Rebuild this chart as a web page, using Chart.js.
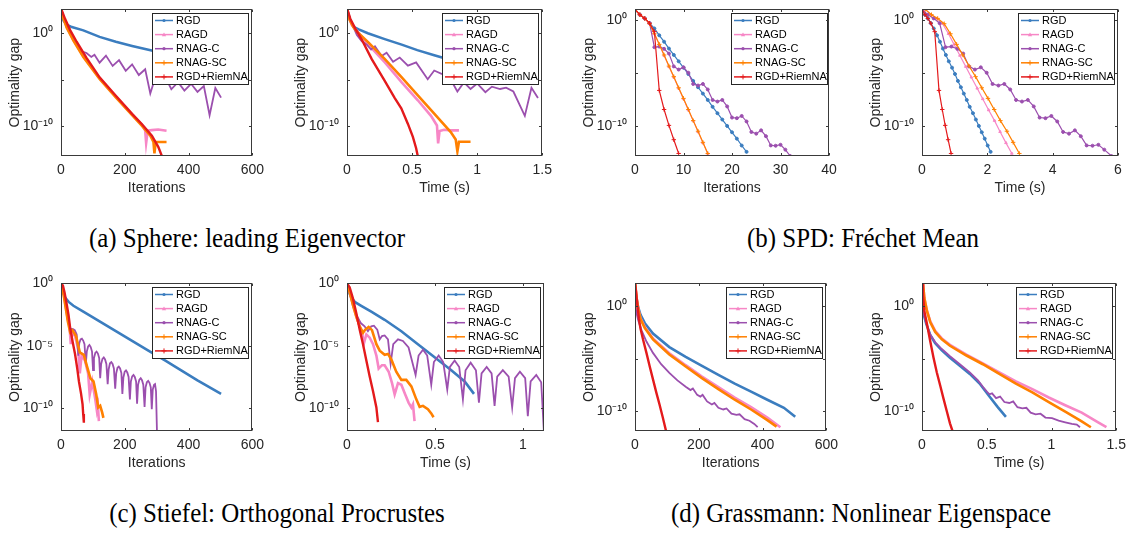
<!DOCTYPE html>
<html>
<head>
<meta charset="utf-8">
<script src="https://cdn.jsdelivr.net/npm/chart.js"></script>
<style>
body { margin:0; width:1132px; height:534px; overflow:hidden; background:#fff; position:relative; }
canvas { position:absolute; }
.cap { position:absolute; font-family:"Liberation Serif", "Times New Roman", serif; font-size:28px; line-height:30px; white-space:nowrap; color:#000; text-align:center; transform:scaleX(0.89); }
</style>
</head>
<body>
<div class="cap" style="left:-3px;top:223px;width:500px">(a) Sphere: leading Eigenvector</div>
<div class="cap" style="left:613px;top:223px;width:500px">(b) SPD: Fréchet Mean</div>
<div class="cap" style="left:-23px;top:498px;width:600px">(c) Stiefel: Orthogonal Procrustes</div>
<div class="cap" style="left:561px;top:498px;width:600px">(d) Grassmann: Nonlinear Eigenspace</div>
<script>
// y values are log10 of the optimality gap

var names = ['RGD', 'RAGD', 'RNAG-C', 'RNAG-SC', 'RGD+RiemNA']
var colors = ['#3b7dbf', '#f787c6', '#9b4fae', '#ff8000', '#e41a1c']

// (a) sphere, iterations
var aRgdX = [0, 8, 18, 34, 70, 121, 172, 223, 274, 326, 377, 428, 500]
var aRgdY = [2.53, 1.32, 0.90, 0.63, 0.28, -0.42, -0.94, -1.39, -1.81, -2.20, -2.55, -2.90, -3.30]
var aRagdX = [0, 8, 18, 39, 70, 121, 172, 223, 254, 264, 267, 272, 285, 305, 331]
var aRagdY = [2.53, 1.67, 0.63, -0.76, -2.50, -4.86, -6.84, -8.75, -9.86, -10.49, -11.81, -10.49, -10.42, -10.35, -10.49]
var aRnagcX = [0, 13, 29, 49, 65, 80, 95, 105, 121, 141, 162, 182, 203, 223, 244, 264, 280, 295, 315, 331, 346, 367, 387, 408, 428, 448, 466, 484, 502]
var aRnagcY = [2.53, 1.32, -0.07, -1.28, -1.98, -2.15, -2.57, -2.33, -3.19, -2.43, -3.54, -2.92, -4.06, -3.37, -4.51, -3.89, -6.49, -4.86, -5.35, -5.00, -6.04, -5.28, -6.18, -5.45, -6.32, -5.69, -8.82, -5.90, -6.94]
var aScX = [0, 8, 18, 39, 70, 121, 172, 223, 254, 280, 290, 293, 297, 315, 331]
var aScY = [2.53, 1.51, 0.56, -0.83, -2.57, -4.93, -6.91, -8.82, -9.97, -11.01, -11.70, -12.92, -11.70, -11.70, -11.70]
var aNaX = [0, 13, 29, 49, 80, 121, 172, 223, 254, 285, 305, 317]
var aNaY = [2.64, 1.49, 0.28, -0.94, -2.67, -4.76, -6.74, -8.68, -9.79, -11.01, -12.22, -13.26]

// (a) sphere, time (s)
var bRgdX = [0, 0.02, 0.05, 0.09, 0.16, 0.29, 0.42, 0.54, 0.67, 0.73, 0.94]
var bRgdY = [2.57, 1.53, 0.66, 0.38, -0.03, -0.66, -1.25, -1.84, -2.40, -2.64, -3.33]
var bRagdX = [0, 0.018, 0.038, 0.076, 0.164, 0.291, 0.417, 0.544, 0.645, 0.691, 0.700, 0.711, 0.746, 0.797, 0.860]
var bRagdY = [2.57, 1.53, 0.83, 0.24, -1.25, -3.16, -5.24, -7.22, -8.89, -9.93, -11.84, -10.52, -10.38, -10.45, -10.45]
var bRnagcX = [0, 0.038, 0.076, 0.114, 0.152, 0.185, 0.215, 0.266, 0.304, 0.354, 0.405, 0.468, 0.531, 0.620, 0.670, 0.726, 0.772, 0.848, 0.898, 0.949, 1.000, 1.063, 1.113, 1.176, 1.222, 1.278, 1.366, 1.417, 1.467]
var bRnagcY = [2.57, 1.01, -0.21, -0.90, -1.25, -1.77, -1.42, -2.47, -2.12, -3.09, -2.64, -3.51, -3.16, -4.97, -4.03, -4.38, -4.38, -6.28, -5.31, -6.01, -5.42, -6.35, -5.76, -6.01, -5.87, -6.28, -8.89, -5.87, -6.98]
var bScX = [0, 0.02, 0.051, 0.089, 0.164, 0.291, 0.417, 0.544, 0.670, 0.797, 0.835, 0.848, 0.860, 0.898, 0.949]
var bScY = [2.57, 1.42, 0.59, -0.03, -1.01, -2.81, -4.72, -6.70, -8.65, -10.63, -11.42, -12.71, -11.67, -11.67, -11.67]
var bNaX = [0, 0.025, 0.063, 0.114, 0.190, 0.291, 0.367, 0.417, 0.468, 0.506, 0.531, 0.544]
var bNaY = [2.67, 1.53, 0.49, -0.73, -2.81, -5.17, -6.98, -8.09, -9.76, -11.15, -12.36, -13.23]

// (b) SPD, per iteration (same runs for iterations and time)
var spdRgdY = [1.0, 0.5, 0.15, -0.3, -0.8, -1.45, -2.05, -2.7, -3.3, -3.9, -4.5, -5.1, -5.75, -6.35, -6.95, -7.55, -8.2, -8.8, -9.4, -10.0, -10.6, -11.2, -11.85, -12.45]
var spdRagdY = [1.0, 0.5, 0.15, -0.35, -1.3, -2.3, -3.35, -4.4, -5.4, -6.45, -7.45, -8.5, -9.5, -10.55, -11.6, -12.6]
var spdRnagcY = [1.0, 0.5, 0.15, -0.3, -2.57, -2.51, -2.72, -3.17, -4.38, -4.68, -4.47, -4.98, -6.04, -6.19, -6.04, -6.56, -7.55, -7.70, -7.55, -8.16, -9.21, -9.27, -9.06, -9.58, -10.57, -10.73, -10.42, -10.97, -11.84, -11.87, -11.78, -12.24, -12.84]
var spdScY = [1.0, 0.5, 0.15, -0.35, -1.3, -2.3, -3.3, -4.35, -5.35, -6.4, -7.4, -8.45, -9.5, -10.5, -11.55, -12.6]
var spdNaY = [1.0, 0.5, 0.15, -0.3, -1.1, -6.65, -8.45, -9.95, -11.3, -12.6]

var cRgdX = [0, 1, 2, 3, 4, 5, 6, 7, 8, 9, 10, 11, 12, 13, 14, 15, 16, 17, 18, 19, 20, 21, 22, 23]
var cRagdX = [0, 1, 2, 3, 4, 5, 6, 7, 8, 9, 10, 11, 12, 13, 14, 15]
var cRnagcX = [0, 1, 2, 3, 4, 5, 6, 7, 8, 9, 10, 11, 12, 13, 14, 15, 16, 17, 18, 19, 20, 21, 22, 23, 24, 25, 26, 27, 28, 29, 30, 31, 32]
var cScX = [0, 1, 2, 3, 4, 5, 6, 7, 8, 9, 10, 11, 12, 13, 14, 15]
var cNaX = [0, 1, 2, 3, 4, 5, 6, 7, 8, 9]

var dRgdX = [0, 0.09, 0.18, 0.27, 0.36, 0.46, 0.55, 0.64, 0.73, 0.82, 0.92, 1.01, 1.10, 1.19, 1.28, 1.37, 1.46, 1.56, 1.65, 1.74, 1.83, 1.92, 2.01, 2.10]
var dRagdX = [0.10, 0.28, 0.45, 0.63, 0.81, 0.98, 1.16, 1.34, 1.51, 1.69, 1.86, 2.04, 2.22, 2.39, 2.57, 2.75]
var dRnagcX = [0, 0.18, 0.36, 0.54, 0.72, 0.90, 1.08, 1.26, 1.44, 1.62, 1.80, 1.98, 2.16, 2.34, 2.52, 2.70, 2.88, 3.06, 3.24, 3.42, 3.60, 3.78, 3.96, 4.14, 4.32, 4.50, 4.68, 4.86, 5.04, 5.22, 5.40, 5.58, 5.80]
var dScX = [0.10, 0.29, 0.48, 0.68, 0.87, 1.06, 1.25, 1.44, 1.64, 1.83, 2.02, 2.21, 2.40, 2.60, 2.79, 2.98]
var dNaX = [0, 0.09, 0.18, 0.27, 0.39, 0.52, 0.62, 0.71, 0.80, 0.89]

// (c) Stiefel, iterations
var eRgdX = [0, 6, 13, 24, 39, 70, 121, 172, 223, 274, 326, 377, 428, 502]
var eRgdY = [0, -0.70, -1.14, -1.48, -1.79, -2.26, -3.04, -3.82, -4.60, -5.38, -6.16, -6.95, -7.75, -8.83]
var eRagdX = [0, 8, 15, 21.5, 26.6, 30.7, 34.8, 44, 54, 59, 64.5, 75, 85, 90, 98, 107.5, 112.6, 115.7, 118.8]
var eRagdY = [0, -0.83, -1.87, -2.91, -3.43, -4.86, -3.95, -4.21, -5.25, -7.19, -5.77, -6.16, -7.19, -8.88, -7.84, -9.27, -10.18, -9.79, -11.01]
var eRnagcX = [0, 8.2, 15.4, 21.5, 26.6, 31.7, 36.9, 43.0, 49.2, 54.3, 57.3, 61.4, 65.5, 69.6, 73.7, 77.8, 80.9, 85.0, 89.1, 93.2, 97.3, 100.4, 103.4, 107.5, 111.6, 115.7, 119.8, 122.9, 125.9, 130.0, 134.1, 138.2, 142.3, 146.4, 149.5, 153.6, 157.7, 161.8, 165.9, 170.0, 173.1, 177.2, 181.2, 185.3, 189.4, 192.5, 195.6, 199.7, 203.8, 207.9, 212.0, 216.1, 219.1, 223.2, 227.3, 231.4, 235.5, 238.6, 241.7, 245.8, 249.9, 254.0, 258.1, 262.1, 265.2, 269.3, 273.4, 277.5, 281.6, 284.7, 287.7, 291.8, 294.9, 298.0, 301.1]
var eRnagcY = [0, -0.83, -1.87, -2.91, -3.38, -3.69, -3.64, -3.74, -4.08, -5.77, -4.78, -4.47, -4.42, -4.57, -4.86, -6.42, -5.45, -5.04, -4.93, -5.09, -5.45, -6.93, -5.97, -5.56, -5.45, -5.61, -5.97, -7.58, -6.44, -6.03, -5.92, -6.08, -6.44, -8.05, -6.86, -6.39, -6.29, -6.44, -6.80, -8.41, -7.19, -6.75, -6.65, -6.80, -7.17, -8.83, -7.53, -7.06, -6.96, -7.12, -7.48, -9.27, -7.84, -7.43, -7.32, -7.48, -7.84, -9.61, -8.10, -7.69, -7.58, -7.74, -8.10, -9.87, -8.31, -7.90, -7.79, -7.95, -8.31, -10.05, -8.49, -8.10, -8.05, -8.62, -12.0]
var eScX = [0, 8, 15, 21.5, 28.7, 35.8, 47, 59, 71.7, 82, 92, 102, 110.6, 116.7, 122.9, 129, 133]
var eScY = [0, -0.88, -2.0, -3.04, -3.90, -3.74, -4.21, -5.51, -5.71, -6.68, -7.58, -7.84, -8.88, -9.92, -9.79, -10.31, -10.75]
var eNaX = [0, 6, 11, 18.4, 23.6, 28.7, 36.9, 44, 51, 56.3, 62.5, 67.6, 69.6, 71.7]
var eNaY = [0, -0.18, -0.70, -1.74, -2.52, -3.56, -4.73, -5.64, -6.81, -7.84, -8.75, -9.66, -10.44, -11.14]

// (c) Stiefel, time (s)
var fRgdX = [0, 0.011, 0.025, 0.044, 0.081, 0.138, 0.214, 0.309, 0.403, 0.498, 0.593, 0.669, 0.722]
var fRgdY = [0, -0.70, -1.14, -1.48, -1.79, -2.26, -2.91, -3.82, -4.86, -5.90, -6.94, -7.84, -8.83]
var fRagdX = [0, 0.015, 0.034, 0.053, 0.072, 0.085, 0.095, 0.110, 0.129, 0.148, 0.167, 0.180, 0.199, 0.214, 0.237, 0.256, 0.271, 0.290, 0.309, 0.331, 0.350, 0.366, 0.375, 0.384]
var fRagdY = [0, -0.70, -1.74, -2.65, -3.43, -3.82, -4.86, -4.08, -4.34, -4.86, -5.77, -6.81, -6.54, -6.54, -7.06, -7.97, -8.88, -7.97, -8.10, -8.88, -9.53, -9.92, -9.66, -11.01]
var fRnagcX = [0, 0.015, 0.034, 0.053, 0.078, 0.100, 0.119, 0.138, 0.153, 0.172, 0.186, 0.199, 0.214, 0.233, 0.248, 0.263, 0.290, 0.318, 0.350, 0.390, 0.407, 0.432, 0.456, 0.479, 0.494, 0.521, 0.547, 0.570, 0.585, 0.612, 0.638, 0.659, 0.674, 0.703, 0.733, 0.750, 0.765, 0.794, 0.822, 0.839, 0.854, 0.886, 0.919, 0.939, 0.955, 0.983, 1.013, 1.028, 1.044, 1.076, 1.104, 1.119]
var fRnagcY = [0, -0.70, -1.74, -2.52, -3.17, -3.43, -3.82, -3.43, -3.38, -3.69, -4.47, -4.21, -4.16, -4.47, -6.42, -4.86, -4.47, -4.60, -5.12, -7.32, -5.77, -5.30, -5.77, -8.10, -6.29, -5.77, -6.29, -8.49, -6.68, -6.16, -6.68, -9.27, -6.94, -6.34, -6.94, -9.53, -7.19, -6.68, -7.19, -9.79, -7.45, -6.94, -7.45, -9.92, -7.58, -7.06, -7.58, -10.62, -7.84, -7.32, -7.90, -11.74]
var fScX = [0, 0.015, 0.034, 0.053, 0.072, 0.091, 0.104, 0.123, 0.142, 0.167, 0.186, 0.214, 0.233, 0.252, 0.280, 0.309, 0.337, 0.366, 0.394, 0.413, 0.432, 0.460, 0.479, 0.492]
var fScY = [0, -0.70, -1.74, -2.65, -3.43, -3.95, -3.69, -3.48, -3.74, -4.86, -5.38, -5.71, -5.64, -6.08, -7.06, -7.71, -7.71, -8.23, -9.27, -9.87, -9.79, -10.05, -10.39, -10.70]
var fNaX = [0, 0.015, 0.034, 0.053, 0.072, 0.091, 0.110, 0.129, 0.148, 0.167, 0.176]
var fNaY = [0, -0.31, -1.22, -2.39, -3.69, -4.86, -6.16, -7.45, -8.62, -9.92, -11.09]

// (d) Grassmann, iterations
var gRgdX = [0, 5.1, 10.3, 17.4, 30.8, 56.4, 107.7, 159, 210, 261.5, 312.8, 364, 415, 467, 502.5]
var gRgdY = [0.9, 0.62, -0.15, -0.83, -1.63, -2.62, -3.91, -4.83, -5.69, -6.55, -7.38, -8.15, -8.92, -9.69, -10.55]
var gRagdX = [0, 5.1, 10.3, 17.4, 30.8, 56.4, 107.7, 159, 210, 261.5, 312.8, 364, 415, 456]
var gRagdY = [2.25, 0.77, -0.28, -1.17, -2.0, -3.08, -4.49, -5.63, -6.71, -7.72, -8.71, -9.63, -10.62, -11.54]
var gRnagcX = [0, 5.1, 10.3, 20.5, 35.9, 56.4, 82, 107.7, 133, 159, 174, 181.5, 195, 205, 212, 226, 241, 249, 261.5, 277, 287, 302.5, 318, 328, 343.6, 359, 374, 384.6]
var gRnagcY = [0.15, -0.71, -1.38, -2.31, -3.38, -4.46, -5.54, -6.37, -7.08, -7.69, -8.0, -7.85, -8.46, -8.62, -8.46, -9.08, -9.38, -9.23, -9.69, -9.85, -9.75, -10.25, -10.37, -10.31, -10.77, -10.92, -11.23, -11.54]
var gScX = [0, 5.1, 10.3, 17.4, 30.8, 56.4, 107.7, 159, 210, 261.5, 312.8, 364, 415, 444]
var gScY = [2.25, 0.77, -0.31, -1.23, -2.09, -3.17, -4.62, -5.75, -6.86, -7.91, -8.92, -9.85, -10.86, -11.48]
var gNaX = [0, 4.1, 8.2, 12.3, 17.4, 25.6, 35.9, 46.2, 56.4, 66.7, 76.9, 87.2, 97.4]
var gNaY = [2.31, 1.08, -0.15, -1.23, -2.15, -3.23, -4.46, -5.75, -6.98, -8.22, -9.38, -10.62, -11.91]

// (d) Grassmann, time (s)
var hRgdX = [0, 0.013, 0.033, 0.064, 0.102, 0.153, 0.216, 0.292, 0.369, 0.445, 0.521, 0.585, 0.648]
var hRgdY = [0, -0.77, -1.69, -2.77, -3.54, -4.22, -4.92, -5.69, -6.46, -7.38, -8.62, -9.63, -10.55]
var hRagdX = [0.008, 0.018, 0.038, 0.064, 0.102, 0.153, 0.216, 0.343, 0.470, 0.597, 0.725, 0.852, 0.979, 1.106, 1.233, 1.360, 1.424]
var hRagdY = [2.15, 0.77, -0.40, -1.45, -2.37, -3.08, -3.69, -4.62, -5.45, -6.31, -7.17, -7.91, -8.71, -9.45, -10.15, -11.08, -11.54]
var hRnagcX = [0, 0.013, 0.033, 0.064, 0.102, 0.153, 0.216, 0.292, 0.369, 0.432, 0.470, 0.501, 0.521, 0.541, 0.572, 0.603, 0.636, 0.674, 0.704, 0.737, 0.775, 0.806, 0.839, 0.877, 0.915, 0.953, 1.004, 1.055, 1.106, 1.157, 1.195, 1.220]
var hRnagcY = [0, -0.77, -1.69, -2.71, -3.45, -4.09, -4.77, -5.54, -6.31, -7.08, -7.69, -8.15, -8.40, -8.31, -8.77, -8.62, -9.14, -9.23, -9.08, -9.63, -9.75, -9.69, -10.15, -10.31, -10.25, -10.62, -10.68, -10.92, -11.08, -11.23, -11.29, -11.54]
var hScX = [0.008, 0.018, 0.038, 0.064, 0.102, 0.153, 0.216, 0.343, 0.470, 0.597, 0.725, 0.852, 0.979, 1.106, 1.233, 1.304]
var hScY = [2.15, 0.77, -0.46, -1.54, -2.46, -3.17, -3.78, -4.71, -5.54, -6.46, -7.38, -8.22, -9.14, -10.06, -10.98, -11.54]
var hNaX = [0, 0.0076, 0.018, 0.038, 0.064, 0.089, 0.114, 0.140, 0.165, 0.191, 0.216, 0.236]
var hNaY = [2.25, 1.08, -0.46, -1.69, -3.38, -4.92, -6.31, -7.54, -8.77, -10.0, -11.17, -11.91]

var iterTicks = [0, 200, 400, 600]

var panels = [
  {box:[61,5,256,156], xMax:600, xTicks:iterTicks, xTitle:'Iterations', yLim:[-13.2,2.53], yLab:[-10,0], dense:true,
   series:[[aRgdX,aRgdY],[aRagdX,aRagdY],[aRnagcX,aRnagcY],[aScX,aScY],[aNaX,aNaY]]},
  {box:[347,5,544,156], xMax:1.5, xTicks:[0,0.5,1,1.5], xTitle:'Time (s)', yLim:[-13.2,2.53], yLab:[-10,0], dense:true,
   series:[[bRgdX,bRgdY],[bRagdX,bRagdY],[bRnagcX,bRnagcY],[bScX,bScY],[bNaX,bNaY]]},
  {box:[635,5,829,156], xMax:40, xTicks:[0,10,20,30,40], xTitle:'Iterations', yLim:[-12.84,1.0], yLab:[-10,0], dense:false, legGap:2,
   series:[[cRgdX,spdRgdY],[cRagdX,spdRagdY],[cRnagcX,spdRnagcY],[cScX,spdScY],[cNaX,spdNaY]]},
  {box:[922,5,1118,156], xMax:6, xTicks:[0,2,4,6], xTitle:'Time (s)', yLim:[-12.84,1.0], yLab:[-10,0], dense:false,
   series:[[dRgdX,spdRgdY],[dRagdX,spdRagdY],[dRnagcX,spdRnagcY],[dScX,spdScY],[dNaX,spdNaY]]},
  {box:[61,279,256,431], xMax:600, xTicks:iterTicks, xTitle:'Iterations', yLim:[-11.8,0], yLab:[-10,-5,0], dense:true,
   series:[[eRgdX,eRgdY],[eRagdX,eRagdY],[eRnagcX,eRnagcY],[eScX,eScY],[eNaX,eNaY]]},
  {box:[347,279,544,431], xMax:1.12, xTicks:[0,0.5,1], xTitle:'Time (s)', yLim:[-11.8,0], yLab:[-10,-5,0], dense:true,
   series:[[fRgdX,fRgdY],[fRagdX,fRagdY],[fRnagcX,fRnagcY],[fScX,fScY],[fNaX,fNaY]]},
  {box:[635,279,830,431], xMax:600, xTicks:iterTicks, xTitle:'Iterations', yLim:[-11.9,2.16], yLab:[-10,0], dense:true,
   series:[[gRgdX,gRgdY],[gRagdX,gRagdY],[gRnagcX,gRnagcY],[gScX,gScY],[gNaX,gNaY]]},
  {box:[922,279,1118,431], xMax:1.5, xTicks:[0,0.5,1,1.5], xTitle:'Time (s)', yLim:[-11.9,2.16], yLab:[-10,0], dense:true,
   series:[[hRgdX,hRgdY],[hRagdX,hRagdY],[hRnagcX,hRnagcY],[hScX,hScY],[hNaX,hNaY]]}
]

Chart.defaults.font.family = '"Liberation Sans", Arial, sans-serif'
Chart.defaults.font.size = 14
Chart.defaults.color = '#262626'

var supChars = {'0':'\u2070','1':'\u00b9','2':'\u00b2','3':'\u00b3','4':'\u2074','5':'\u2075','6':'\u2076','7':'\u2077','8':'\u2078','9':'\u2079','-':'\u207b'}
function powLabel(e){
  return '10' + String(e).split('').map(function(c){ return supChars[c] }).join('')
}

var axisColor = '#3a3a3a'
var denseWidth = [2.6, 2.6, 1.8, 2.6, 2.4]
var markStyle = ['circle', 'triangle', 'circle', 'cross', 'cross']

function drawMark(ctx, k, x, y){
  ctx.beginPath()
  if(markStyle[k] == 'circle'){
    ctx.arc(x, y, 1.6, 0, Math.PI*2); ctx.fill()
  } else if(markStyle[k] == 'triangle'){
    ctx.moveTo(x, y-2.2); ctx.lineTo(x+2.2, y+1.6); ctx.lineTo(x-2.2, y+1.6); ctx.closePath(); ctx.fill()
  } else {
    ctx.moveTo(x-2.5, y); ctx.lineTo(x+2.5, y); ctx.moveTo(x, y-2.5); ctx.lineTo(x, y+2.5); ctx.stroke()
  }
}

function makeChart(p){
  var L = p.box[0], T = p.box[1], R = p.box[2], B = p.box[3]
  var w = R-L+68, h = B-T+53
  var cv = document.createElement('canvas')
  cv.width = w; cv.height = h
  cv.style.left = (L-54)+'px'; cv.style.top = (T-12)+'px'
  cv.style.width = w+'px'; cv.style.height = h+'px'
  document.body.appendChild(cv)

  var sets = []
  for(var k=0; k<5; k++){
    var xs = p.series[k][0], ys = p.series[k][1]
    var pts = xs.map(function(v, i){ return {x:v, y:Math.pow(10, ys[i])} })
    sets.push({
      label: names[k], data: pts,
      borderColor: colors[k], backgroundColor: colors[k],
      borderWidth: p.dense ? denseWidth[k] : 1.2,
      pointRadius: p.dense ? 0 : (markStyle[k] == 'cross' ? 2.2 : 1.5),
      pointStyle: markStyle[k], pointBorderWidth: 1,
      order: 5-k, tension: 0
    })
  }

  var frame = {
    id: 'frame',
    afterDatasetsDraw: function(chart){
      var ctx = chart.ctx, a = chart.chartArea
      var lw = 96, lh = 71
      var x0 = Math.round(a.right - (p.legGap || 4) - lw), y0 = Math.round(a.top + 4)
      ctx.save()
      ctx.fillStyle = '#fff'
      ctx.fillRect(x0, y0, lw, lh)
      ctx.strokeStyle = '#262626'; ctx.lineWidth = 1
      ctx.strokeRect(x0+0.5, y0+0.5, lw, lh)
      ctx.font = '11px "Liberation Sans", Arial, sans-serif'
      ctx.textBaseline = 'middle'
      for(var k=0; k<5; k++){
        var yy = y0 + 7.5 + k*14.1
        ctx.strokeStyle = colors[k]; ctx.fillStyle = colors[k]; ctx.lineWidth = 1.5
        ctx.beginPath(); ctx.moveTo(x0+3, yy); ctx.lineTo(x0+21, yy); ctx.stroke()
        ctx.lineWidth = 1
        drawMark(ctx, k, x0+12, yy)
        ctx.fillStyle = '#000'
        ctx.fillText(names[k], x0+24, yy+0.5)
      }
      ctx.restore()
    },
    afterDraw: function(chart){
      var ctx = chart.ctx, a = chart.chartArea
      var xs = chart.scales.x, ysc = chart.scales.y
      var l = Math.round(a.left)+0.5, t = Math.round(a.top)+0.5, r = Math.round(a.right)-0.5, b = Math.round(a.bottom)-0.5
      ctx.save()
      ctx.strokeStyle = axisColor; ctx.lineWidth = 1
      ctx.strokeRect(l, t, r-l, b-t)
      ctx.beginPath()
      p.xTicks.forEach(function(v){
        var px = Math.round(xs.getPixelForValue(v))+0.5
        ctx.moveTo(px, b); ctx.lineTo(px, b-2.5)
        ctx.moveTo(px, t); ctx.lineTo(px, t+2.5)
      })
      ysc.ticks.forEach(function(tk){
        var py = Math.round(ysc.getPixelForValue(tk.value))+0.5
        ctx.moveTo(l, py); ctx.lineTo(l+2.5, py)
        ctx.moveTo(r, py); ctx.lineTo(r-2.5, py)
      })
      ctx.stroke()
      ctx.restore()
    }
  }

  new Chart(cv, {
    type: 'line',
    data: {datasets: sets},
    options: {
      responsive: false, devicePixelRatio: 1, animation: false,
      layout: {autoPadding: false, padding: {left:0, top:12, right:14, bottom:0}},
      plugins: {legend: {display:false}, tooltip: {enabled:false}},
      scales: {
        x: {
          type: 'linear', min: 0, max: p.xMax,
          border: {display:false}, grid: {display:false, drawTicks:false},
          ticks: {padding: 6, maxRotation: 0, autoSkip: false, color: '#262626', callback: function(v){ return String(v) }},
          title: {display: true, text: p.xTitle, padding: 0, color: '#262626'},
          afterBuildTicks: function(s){ s.ticks = p.xTicks.map(function(v){ return {value:v} }) },
          afterFit: function(s){ s.height = 41 }
        },
        y: {
          type: 'logarithmic', min: Math.pow(10, p.yLim[0]), max: Math.pow(10, p.yLim[1]),
          border: {display:false}, grid: {display:false, drawTicks:false},
          ticks: {padding: 8, autoSkip: false, color: '#262626', callback: function(v){
            var e = Math.round(Math.log10(v))
            return p.yLab.indexOf(e) >= 0 ? powLabel(e) : ''
          }},
          title: {display: true, text: 'Optimality gap', padding: 0, color: '#262626'},
          afterBuildTicks: function(s){ s.ticks = [-10, -5, 0].map(function(e){ return {value:Math.pow(10, e)} }) },
          afterFit: function(s){ s.width = 54 }
        }
      }
    },
    plugins: [frame]
  })
}

panels.forEach(makeChart)
</script>
</body>
</html>
